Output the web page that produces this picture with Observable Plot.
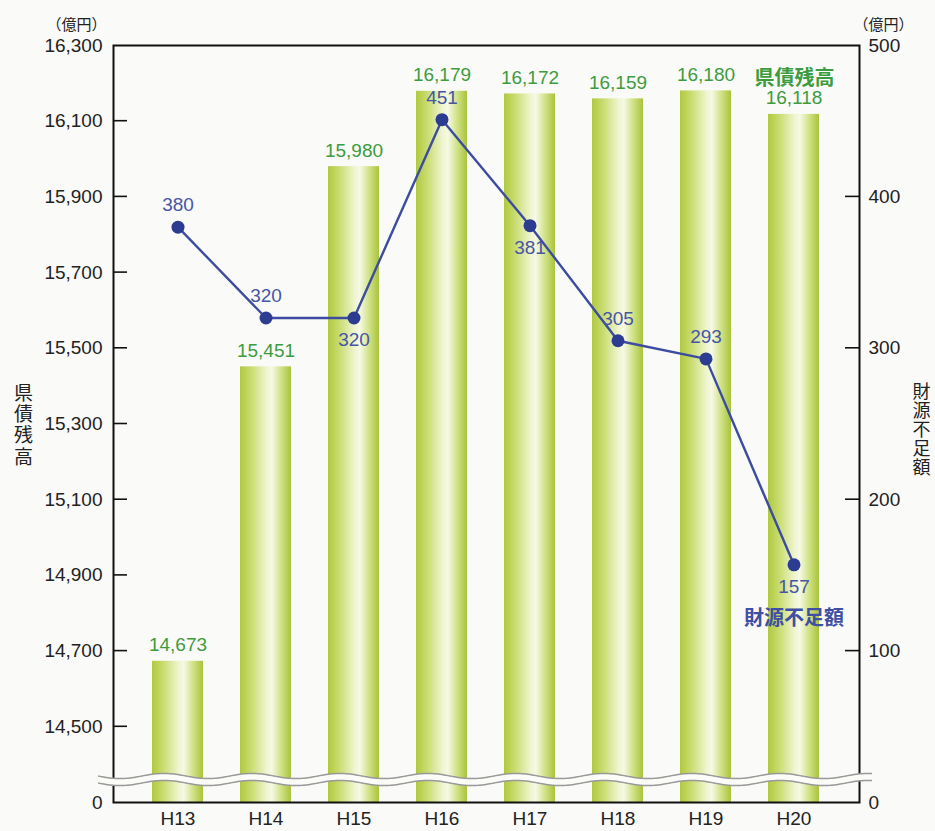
<!DOCTYPE html>
<html><head><meta charset="utf-8">
<script src="https://cdn.jsdelivr.net/npm/d3@7"></script>
<script src="https://cdn.jsdelivr.net/npm/@observablehq/plot@0.6"></script>
<style>body{margin:0;background:#fafaf8;}</style>
</head><body><div id="chart"></div>
<script>
// ---- data ----
const years = ["H13", "H14", "H15", "H16", "H17", "H18", "H19", "H20"];
const debt = [14673, 15451, 15980, 16179, 16172, 16159, 16180, 16118];       // 県債残高（億円）
const shortfall = [380, 320, 320, 451, 381, 305, 293, 157];                  // 財源不足額（億円）
const leftTicks = [14300, 14500, 14700, 14900, 15100, 15300, 15500, 15700, 15900, 16100, 16300]; // 14300 is shown as "0" (broken axis)
const rightTicks = [0, 100, 200, 300, 400, 500];
const labelsBelow = ["H15", "H17", "H20"];

// right axis (0–500) mapped onto the left axis (14300–16300)
const BASE = 14300, K = 4;
const data = years.map((year, i) => ({year, debt: debt[i], shortfall: shortfall[i], ys: BASE + K * shortfall[i]}));

const NS = "http://www.w3.org/2000/svg";
const GREEN = "#3e9c40", BLUE = "#3d4c9f", BLUE_TXT = "#4756a4";
const FONT = "'Liberation Sans', Arial, 'Noto Sans CJK JP', sans-serif";

function el(name, attrs) {
  const e = document.createElementNS(NS, name);
  for (const k in attrs) e.setAttribute(k, attrs[k]);
  return e;
}

function gradientDefs() {
  const defs = el("defs", {});
  const g = el("linearGradient", {id: "barGrad", x1: "0", x2: "1", y1: "0", y2: "0"});
  [["0%", "#b0c940"], ["22%", "#c9dc70"], ["52%", "#eef5cf"], ["62%", "#f6f9e6"], ["80%", "#d2e389"], ["100%", "#a9c33a"]]
    .forEach(([o, c]) => g.appendChild(el("stop", {offset: o, "stop-color": c})));
  defs.appendChild(g);
  return defs;
}

function innerTicks(index, scales, values, dim) {
  const g = el("g", {stroke: "#111", "stroke-width": 1.6});
  const xl = dim.marginLeft, xr = dim.width - dim.marginRight;
  for (const v of leftTicks.slice(1, -1)) {
    const y = scales.y(v);
    g.appendChild(el("line", {x1: xl, x2: xl + 14, y1: y, y2: y}));
  }
  for (const v of rightTicks.slice(1, -1)) {
    const y = scales.y(BASE + K * v);
    g.appendChild(el("line", {x1: xr - 14, x2: xr, y1: y, y2: y}));
  }
  return g;
}

function breakMark(index, scales, values, dim) {
  const g = el("g", {});
  const xl = dim.marginLeft - 15, xr = dim.width - dim.marginRight + 14;
  const y0 = scales.y(BASE);
  const yU = y0 - 26, yL = y0 - 19, A = 2.6, P = 88;
  const up = [], lo = [];
  for (let x = xl; x <= xr; x += 2) {
    const s = A * Math.sin(2 * Math.PI * (x - xl) / P);
    up.push([x, yU + s]);
    lo.push([x, yL + s]);
  }
  const line = d3.line();
  g.appendChild(el("path", {d: line(up.concat(lo.slice().reverse())) + "Z", fill: "#fbfbf8", stroke: "none"}));
  g.appendChild(el("path", {d: line(up), fill: "none", stroke: "#999", "stroke-width": 1.5}));
  g.appendChild(el("path", {d: line(lo), fill: "none", stroke: "#999", "stroke-width": 1.5}));
  return g;
}

const chart = Plot.plot({
  width: 935,
  height: 831,
  marginLeft: 113,
  marginRight: 76,
  marginTop: 45,
  marginBottom: 29,
  style: {fontSize: "19px", fontFamily: FONT, background: "#fafaf8", color: "#222"},
  x: {domain: years, paddingInner: 0.42, paddingOuter: 0.43},
  y: {domain: [BASE, 16300]},
  marks: [
    gradientDefs,
    Plot.barY(data, {x: "year", y1: BASE, y2: "debt", fill: "url(#barGrad)"}),
    Plot.frame({stroke: "#111", strokeWidth: 2}),
    innerTicks,
    breakMark,
    Plot.axisY(leftTicks, {anchor: "left", tickSize: 0, tickPadding: 11, label: null,
      tickFormat: v => v === BASE ? "0" : d3.format(",")(v)}),
    Plot.axisY(rightTicks.map(v => BASE + K * v), {anchor: "right", tickSize: 0, tickPadding: 9, label: null,
      tickFormat: v => String((v - BASE) / K)}),
    Plot.axisX({tickSize: 0, tickPadding: 9, label: null}),
    Plot.text(data, {x: "year", y: "debt", text: d => d3.format(",")(d.debt), dy: -16, fill: GREEN}),
    Plot.line(data, {x: "year", y: "ys", stroke: BLUE, strokeWidth: 2.4}),
    Plot.dot(data, {x: "year", y: "ys", r: 6.5, fill: "#2c3c90", stroke: "none"}),
    Plot.text(data, {x: "year", y: "ys", text: "shortfall", fill: BLUE_TXT,
      filter: d => !labelsBelow.includes(d.year), dy: -22}),
    Plot.text(data, {x: "year", y: "ys", text: "shortfall", fill: BLUE_TXT,
      filter: d => labelsBelow.includes(d.year), dy: 22}),
    Plot.text(["県債残高"], {frameAnchor: "top-right", dx: -65, dy: 25, textAnchor: "middle", fill: GREEN, fontWeight: "bold", fontSize: 20}),
    Plot.text(["財源不足額"], {x: () => "H20", y: () => BASE + K * 157, dy: 54, fill: "#3f4fa3", fontWeight: "bold", fontSize: 20}),
    Plot.text(["（億円）"], {frameAnchor: "top-left", dx: -37, dy: -26, textAnchor: "middle", fontSize: 15}),
    Plot.text(["（億円）"], {frameAnchor: "top-right", dx: 24, dy: -26, textAnchor: "middle", fontSize: 15}),
    Plot.text(["県\n債\n残\n高"], {frameAnchor: "left", dx: -90, dy: 1, textAnchor: "middle", lineHeight: 1.12, fontSize: 19}),
    Plot.text(["財\n源\n不\n足\n額"], {frameAnchor: "right", dx: 62, dy: 6, textAnchor: "middle", lineHeight: 1.05, fontSize: 18})
  ]
});
document.getElementById("chart").appendChild(chart);
</script>
</body></html>
